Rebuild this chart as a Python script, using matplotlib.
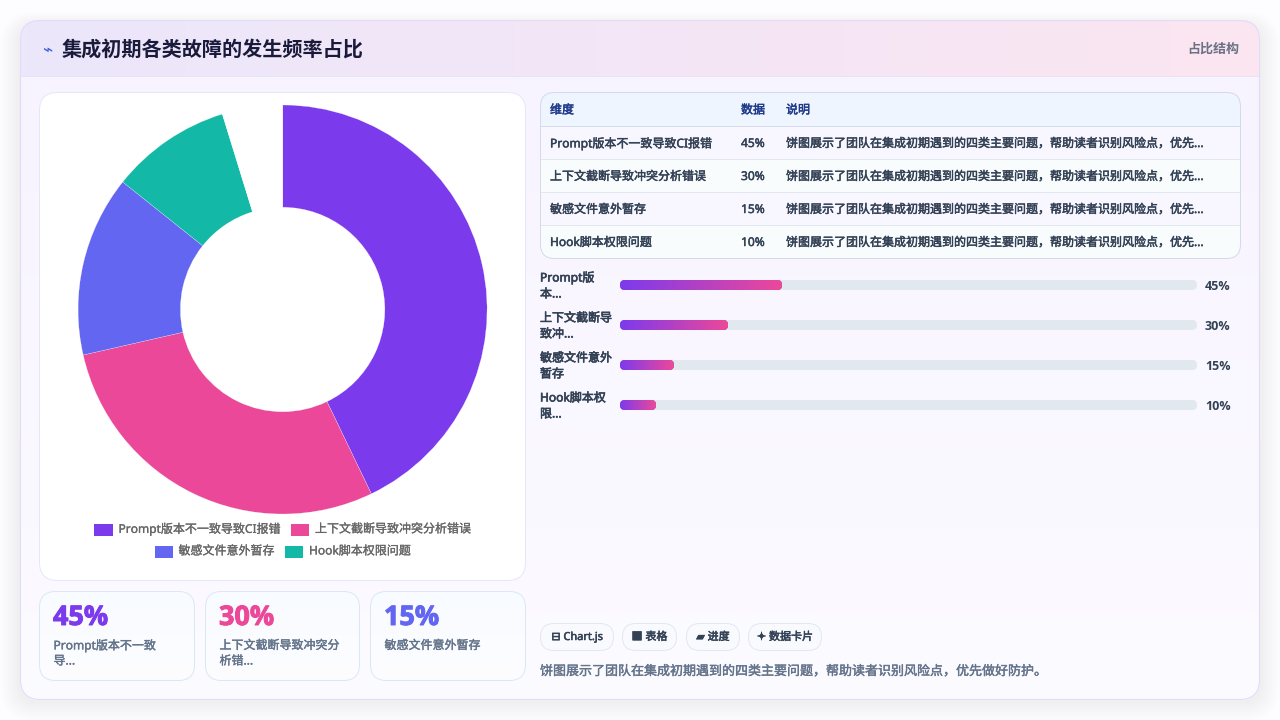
import numpy as np
import matplotlib
matplotlib.use("Agg")
import matplotlib.pyplot as plt
import matplotlib.patheffects as pe
from matplotlib.patches import FancyBboxPatch, Rectangle
from matplotlib.colors import LinearSegmentedColormap

# ---------- data ----------
title = "集成初期各类故障的发生频率占比"
tag = "占比结构"
categories = ["Prompt版本不一致导致CI报错", "上下文截断导致冲突分析错误", "敏感文件意外暂存", "Hook脚本权限问题"]
values = [45, 30, 15, 10]
unfilled_value = [5]
slice_colors = ["#7c3aed", "#ec4899", "#6366f1", "#14b8a6"]
table_headers = ["维度", "数据", "说明"]
table_note = "饼图展示了团队在集成初期遇到的四类主要问题，帮助读者识别风险点，优先..."
bar_labels = [["Prompt版", "本..."], ["上下文截断导", "致冲..."], ["敏感文件意外", "暂存"], ["Hook脚本权", "限..."]]
kpi_labels = [["Prompt版本不一致", "导..."], ["上下文截断导致冲突分", "析错..."], ["敏感文件意外暂存"]]
chips = ["⊟ Chart.js", "■ 表格", "▰ 进度", "✦ 数据卡片"]
footer = "饼图展示了团队在集成初期遇到的四类主要问题，帮助读者识别风险点，优先做好防护。"

plt.rcParams["font.family"] = ["Noto Sans", "Noto Sans CJK SC", "DejaVu Sans"]
px = 0.72  # px to pt

fig = plt.figure(figsize=(12.8, 7.2), dpi=100, facecolor="#fdfdff")
ax = fig.add_axes([0, 0, 1, 1])
ax.set_xlim(0, 1280)
ax.set_ylim(720, 0)
ax.axis("off")


def rbox(x0, y0, x1, y1, r, fc="none", ec="none", lw=0, z=1, target=ax, **kw):
    p = FancyBboxPatch((x0, y0), x1 - x0, y1 - y0, boxstyle=f"round,pad=0,rounding_size={r}",
                       fc=fc, ec=ec, lw=lw, zorder=z, **kw)
    target.add_patch(p)
    return p


def gradient(clip, extent, c0, c1, z, horizontal=True, target=ax):
    cmap = LinearSegmentedColormap.from_list("g", [c0, c1])
    g = np.linspace(0, 1, 256)
    arr = g[None, :] if horizontal else g[:, None]
    im = target.imshow(arr, extent=extent, cmap=cmap, aspect="auto", zorder=z, interpolation="bilinear")
    im.set_clip_path(clip)
    return im


def semi(x, y, s, size, color, stroke=0.3, **kw):
    """Text with a slightly heavier stroke, as the reference's semi-bold face."""
    t = ax.text(x, y, s, fontsize=size * px, color=color, va="center", zorder=3, **kw)
    t.set_path_effects([pe.withStroke(linewidth=stroke, foreground=color)])
    return t


BOLD = ["Open Sans", "Noto Sans CJK SC", "DejaVu Sans"]

# outer card shadow
for i in range(14):
    g = 14 - i
    rbox(20 - g * 1.4, 26 - g * 1.0, 1260 + g * 1.4, 702 + g * 1.4, 20 + g, fc="#6d5bd0", alpha=0.0028, z=0.5)

card = rbox(20, 20, 1260, 700, 20, fc="#f8f6ff", z=1)
gradient(card, (20, 1260, 700, 20), "#f7f3ff", "#fcfbff", 1.1, horizontal=False)
gradient(card, (20, 1260, 76, 20), "#ece7fb", "#fbe5f1", 1.2)
ax.plot([20, 1260], [76, 76], color="#e8e4f6", lw=0.7, zorder=1.3)
rbox(20.5, 20.5, 1259.5, 699.5, 20, ec="#e2ddf5", lw=0.8, z=1.4)

ax.text(47.5, 50, "⌁", fontsize=17 * px, color="#3b5bdb", ha="center", va="center", zorder=3, family="DejaVu Sans")
ax.text(62, 49.5, title, fontsize=20.15 * px, fontweight="bold", color="#1a1a3a", va="center", zorder=3,
        family="Noto Sans CJK SC")
ax.text(1239, 48.5, tag, fontsize=13 * px, fontweight="bold", color="#6b7085", va="center", ha="right", zorder=3,
        family="Noto Sans CJK SC")

# left panel
rbox(39.5, 92.5, 525.5, 580.5, 18, fc="#ffffff", ec="#e4e8f6", lw=0.7, z=2)

# donut
R = 204.5
cx, cy = 282.6, 309.5
ax_p = fig.add_axes([(cx - R) / 1280, 1 - (cy + R) / 720, 2 * R / 1280, 2 * R / 720])
ax_p.pie(values + unfilled_value, colors=slice_colors + ["#ffffff"], startangle=90, counterclock=False,
         radius=1, wedgeprops=dict(width=0.5, edgecolor="#ffffff", linewidth=0.15))
ax_p.set_xlim(-1, 1)
ax_p.set_ylim(-1, 1)
ax_p.patch.set_alpha(0)

# legend
legend_rows = [[(94, 118.5, 0), (290.5, 315, 1)], [(154.5, 178.5, 2), (284.5, 309, 3)]]
for yc, row in zip((529.5, 551.5), legend_rows):
    for sx, tx, idx in row:
        ax.add_patch(Rectangle((sx, yc - 5.5), 18.5, 12, fc=slice_colors[idx], ec="none", zorder=3))
        semi(tx, yc - 0.5, categories[idx], 12, "#666666", 0.2)

# KPI cards
kpi_x = [(39.5, 194.5), (205.5, 359.5), (370.5, 525.5)]
for (x0, x1), v, lab, col in zip(kpi_x, values, kpi_labels, slice_colors):
    c = rbox(x0, 591.5, x1, 680.5, 16, fc="#fbfdff", z=2)
    gradient(c, (x0, x1, 680.5, 591.5), "#f8fbff", "#fdfdff", 2.1, horizontal=False)
    rbox(x0, 591.5, x1, 680.5, 16, ec="#dbe7f5", lw=0.7, z=2.2)
    semi(x0 + 13.5, 618, f"{v}%", 27, col, 0.7, fontweight="bold", family=BOLD)
    for j, line in enumerate(lab):
        semi(x0 + 14, 645.5 + j * 15.5, line, 12, "#64748b", 0.3)

# table
tb = rbox(540.5, 92.5, 1240.5, 258.5, 14, fc="#fafaff", z=2)
r = Rectangle((540, 92), 701, 34, fc="#eef5ff", ec="none", zorder=2.1)
ax.add_patch(r)
r.set_clip_path(tb)
for i in range(4):
    r = Rectangle((540, 126 + 33 * i), 701, 33, fc="#f8f7ff" if i % 2 == 0 else "#f8fcfd", ec="none", zorder=2.1)
    ax.add_patch(r)
    r.set_clip_path(tb)
    ax.plot([541, 1240], [125.7 + 33 * i] * 2, color="#d5dcec" if i == 0 else "#e2e8f0", lw=0.7, zorder=2.2)
rbox(540.5, 92.5, 1240.5, 258.5, 14, ec="#d3daea", lw=0.7, z=2.3)
col_x = [550, 741, 786]
for tx, h in zip(col_x, table_headers):
    semi(tx, 110, h, 12, "#1e3a8a", 0.35)
for i, (c, v) in enumerate(zip(categories, values)):
    y = 143.5 + 33 * i
    semi(col_x[0], y, c, 12, "#334155", 0.35)
    semi(col_x[1], y, f"{v}%", 12, "#334155", 0.35)
    semi(col_x[2], y, table_note, 12, "#334155", 0.35)

# progress bars in their own axes
TX0, TX1 = 620, 1197
ax_b = fig.add_axes([TX0 / 1280, 1 - 425 / 720, (TX1 - TX0) / 1280, 160 / 720])
ax_b.set_xlim(0, 160.28)
ax_b.set_ylim(3.5, -0.5)
ax_b.axis("off")
xu, yu = (TX1 - TX0) / 160.28, 40.0
aspect = xu / yu
h = 10 / yu
rs = 5 / xu
for i, v in enumerate(values):
    rbox(0, i - h / 2, 160.28, i + h / 2, rs, fc="#e2e8f0", z=1, target=ax_b, mutation_aspect=aspect, clip_on=False)
    rbox(v - 2 * rs, i - h / 2, v, i + h / 2, rs, fc="#ec4899", z=1.5, target=ax_b, mutation_aspect=aspect, clip_on=False)
    c = rbox(0, i - h / 2, v, i + h / 2, rs, fc="#7c3aed", z=1.4, target=ax_b, mutation_aspect=aspect, clip_on=False)
    gradient(c, (0, v, i + h / 2, i - h / 2), "#7c3aed", "#ec4899", 3, target=ax_b)
ax_b.set_xlim(0, 160.28)
ax_b.set_ylim(3.5, -0.5)
for i, (lab, v) in enumerate(zip(bar_labels, values)):
    yc = 285 + 40 * i
    for j, line in enumerate(lab):
        semi(540, yc - 7 + j * 16, line, 12, "#334155", 0.45)
    ax.text(1205, yc + 1, f"{v}%", fontsize=12.5 * px, fontweight="bold", color="#334155", va="center", zorder=3,
            family=BOLD)

# chips
chip_x = [(540.5, 613.5), (622.5, 676.5), (686.5, 739.5), (748.5, 821.5)]
for (x0, x1), t in zip(chip_x, chips):
    rbox(x0, 623.5, x1, 650.5, 13.5, fc="#f9fafe", ec="#e3e7f2", lw=0.7, z=2)
    semi((x0 + x1) / 2, 637.5, t, 11, "#334155", 0.4, ha="center")

semi(540, 671.5, footer, 13, "#64748b", 0.3)
ax.set_xlim(0, 1280)
ax.set_ylim(720, 0)

fig.savefig("out.png", dpi=100, facecolor=fig.get_facecolor())
